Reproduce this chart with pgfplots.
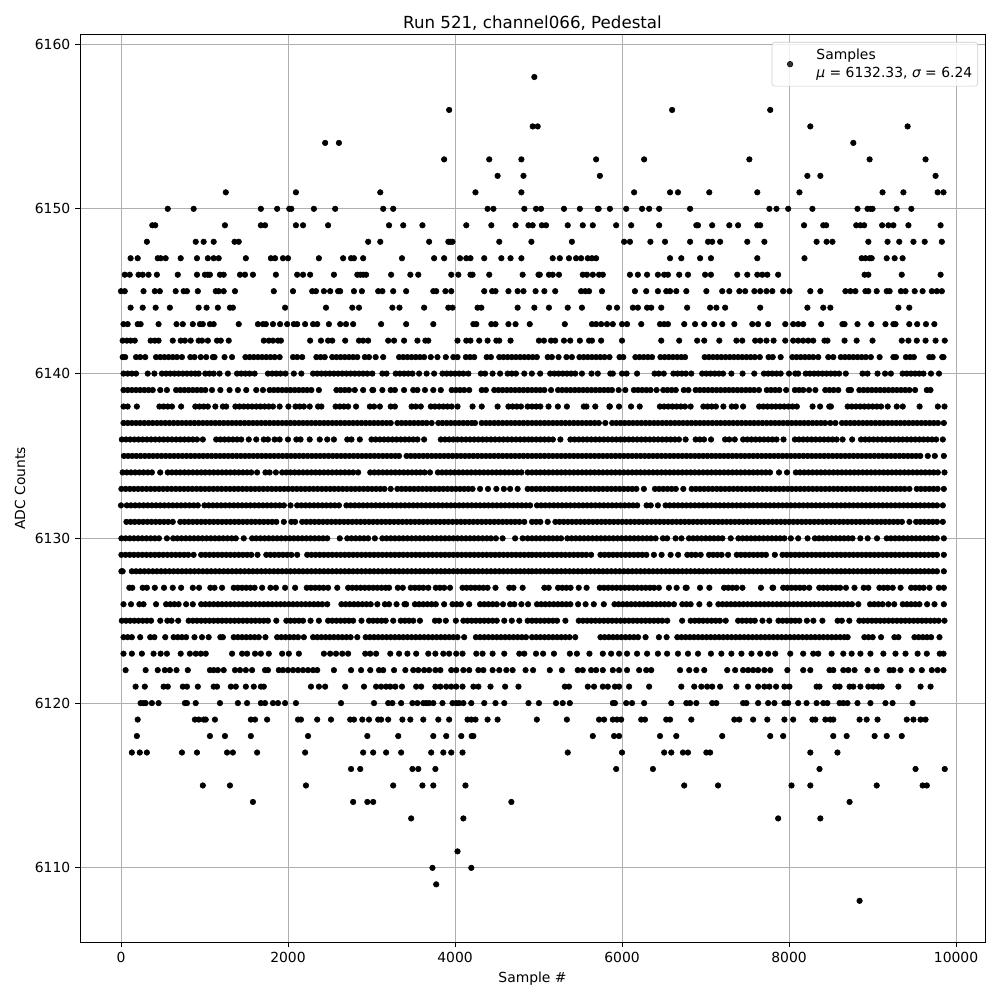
\documentclass[border=0pt]{standalone}
\usepackage{pgfplots}
\usepackage{fontspec}
\setmainfont{DejaVu Sans}
\pgfplotsset{compat=1.18}
\pgfplotsset{lv/.style={only marks,mark=*,mark size=2bp,mark options={draw=none,fill=black},forget plot}}
\newcommand{\lvl}[2]{\addplot[lv] table[x index=0,y expr=#1,header=false,row sep=\\] {#2};}
\begin{document}
\begin{tikzpicture}
\useasboundingbox (-57.6bp,-41.76bp) rectangle ++(720bp,720bp);
\begin{axis}[
  at={(0,0)},anchor=south west,
  scale only axis,width=651.6bp,height=653.04bp,
  xmin=-491,xmax=10347,ymin=6105.5,ymax=6160.55,
  xtick={0,2000,4000,6000,8000,10000},
  ytick={6110,6120,6130,6140,6150,6160},
  scaled ticks=false,
  /pgf/number format/1000 sep={},
  /pgf/number format/assume math mode=true,
  tick style={black,line width=0.7bp},
  major tick length=3.5bp,
  tick align=outside,
  xtick pos=lower,ytick pos=left,
  axis line style={black,line width=0.7bp},
  grid=major,
  grid style={color={rgb,255:red,176;green,176;blue,176},line width=0.7bp},
  tick label style={font=\fontsize{10bp}{12bp}\selectfont},
  label style={font=\fontsize{10bp}{12bp}\selectfont},
  title style={font=\fontsize{12bp}{14bp}\selectfont,yshift=-6bp},
  title={Run 521, channel066, Pedestal},
  xlabel={Sample \#},ylabel={ADC Counts},
  legend style={at={(0.9923,0.9923)},anchor=north east,rounded corners=2bp,draw={rgb,255:red,204;green,204;blue,204},fill=white,fill opacity=0.8,text opacity=1,font=\fontsize{10bp}{12bp}\selectfont,inner xsep=2bp,inner ysep=3bp},
  legend cell align=left,
  legend image code/.code={\path[draw=none,fill=none] (-11bp,0) rectangle (0,0);\path[draw=none] plot[mark=*,mark size=2bp,mark options={draw=none,fill=black}] coordinates {(0,0)};},
]
\addlegendimage{only marks}
\addlegendentry{\hspace*{15bp}\shortstack[l]{Samples\\{\itshape μ} = 6132.33, {\itshape σ} = 6.24}}
\lvl{6158}{4950\\}
\lvl{6156}{3930\\6600\\7775\\}
\lvl{6155}{4930\\4990\\8255\\9420\\}
\lvl{6154}{2445\\2610\\8770\\}
\lvl{6153}{3870\\4410\\4795\\5690\\6265\\7525\\8965\\9635\\}
\lvl{6152}{4510\\4820\\5735\\8220\\8375\\9755\\}
\lvl{6151}{1255\\2095\\3105\\4245\\4795\\6145\\6575\\6670\\7045\\7620\\8125\\9120\\9370\\9780\\9850\\}
\lvl{6150}{560\\870\\1675\\1870\\2015\\2040\\2310\\2565\\3140\\3260\\4390\\4460\\4830\\4970\\5030\\5305\\5495\\5710\\5720\\5855\\6050\\6240\\6325\\6445\\6815\\7765\\7850\\7990\\8280\\8820\\8940\\8975\\9000\\9290\\9465\\}
\lvl{6149}{375\\410\\1245\\1675\\1725\\2095\\2180\\2480\\3210\\3380\\3610\\4135\\4435\\4725\\4880\\4930\\5040\\5090\\5350\\5530\\5650\\5930\\6110\\6445\\6890\\6910\\7080\\7285\\7390\\7620\\7655\\8180\\8410\\8445\\8805\\8855\\8900\\9115\\9190\\9250\\9430\\9815\\}
\lvl{6148}{310\\895\\990\\1110\\1360\\1410\\2960\\3105\\3690\\3920\\3945\\3970\\4530\\4915\\5400\\6025\\6095\\6340\\6515\\6815\\7030\\7080\\7175\\7500\\7705\\8330\\8450\\8520\\8950\\9180\\9320\\9490\\9625\\9830\\}
\lvl{6147}{115\\200\\440\\475\\535\\715\\910\\1040\\1110\\1170\\1495\\1795\\1845\\1940\\2000\\2370\\2660\\2755\\2790\\2900\\3365\\3750\\3870\\4060\\4135\\4185\\4350\\4555\\4665\\4795\\5170\\5255\\5365\\5450\\5510\\5590\\5640\\5690\\6575\\6710\\6935\\7065\\7620\\8185\\8870\\8915\\8965\\8990\\9170\\9265\\9360\\}
\lvl{6146}{45\\105\\210\\260\\330\\430\\680\\910\\1005\\1040\\1065\\1185\\1230\\1425\\1485\\1580\\1855\\2110\\2180\\2265\\2550\\2830\\2865\\2900\\2935\\3235\\3465\\3560\\3955\\4040\\4185\\4210\\4410\\4810\\5000\\5015\\5125\\5170\\5245\\5530\\5580\\5650\\5725\\5770\\6095\\6190\\6300\\6430\\6505\\6550\\6685\\6790\\6995\\7065\\7380\\7500\\7620\\7680\\7740\\7870\\8905\\8950\\9350\\9815\\}
\lvl{6145}{0\\45\\270\\405\\465\\655\\750\\790\\920\\1135\\1170\\1230\\1365\\1830\\2060\\2290\\2335\\2430\\2505\\2600\\2625\\2790\\2885\\3080\\3130\\3260\\3415\\3740\\3775\\3885\\3955\\4350\\4445\\4485\\4640\\4750\\4820\\4965\\5070\\5200\\5510\\5560\\5605\\5760\\6155\\6290\\6430\\6530\\6575\\6650\\6770\\7010\\7200\\7285\\7405\\7475\\7585\\7655\\7730\\7800\\7930\\8005\\8255\\8375\\8675\\8735\\8795\\8915\\8950\\9050\\9170\\9205\\9340\\9395\\9505\\9600\\9710\\9770\\9830\\}
\lvl{6144}{115\\260\\415\\585\\930\\1025\\1160\\1305\\1340\\1965\\2455\\2770\\2850\\3250\\3335\\3630\\3920\\3970\\4270\\4315\\4750\\4950\\5125\\5350\\5520\\5845\\5940\\6130\\6190\\6300\\6350\\6470\\6780\\7055\\7130\\7235\\7655\\8220\\8410\\8495\\9310\\9440\\}
\lvl{6143}{30\\80\\200\\235\\450\\665\\740\\860\\945\\980\\1065\\1110\\1410\\1640\\1700\\1735\\1820\\1905\\1990\\2070\\2110\\2205\\2300\\2350\\2490\\2625\\2695\\2780\\3115\\3415\\3740\\4220\\4255\\4435\\4485\\4640\\4725\\4895\\5315\\5640\\5690\\5750\\5820\\5890\\6000\\6060\\6230\\6455\\6505\\6550\\6745\\6875\\6985\\7105\\7200\\7345\\7560\\7630\\7750\\7955\\8050\\8110\\8170\\8385\\8640\\8665\\8820\\8985\\9155\\9250\\9275\\9440\\9535\\9640\\9740\\}
\lvl{6142}{20\\70\\115\\165\\355\\405\\450\\620\\715\\765\\835\\930\\970\\1040\\1150\\1195\\1290\\1710\\1770\\1820\\1880\\1915\\2265\\2395\\2480\\2530\\2685\\2850\\2900\\2960\\3200\\3270\\3390\\3550\\3645\\3680\\4030\\4135\\4185\\4290\\4390\\4495\\4530\\4665\\5005\\5065\\5150\\5200\\5305\\5380\\5495\\5605\\5640\\5750\\6000\\6470\\6685\\6900\\6985\\7165\\7370\\7440\\7595\\7655\\7730\\7815\\7955\\8050\\8110\\8170\\8230\\8290\\8425\\8460\\8665\\8810\\9000\\9350\\9430\\9530\\9635\\9755\\9865\\}
\lvl{6141}{20\\50\\180\\230\\290\\420\\470\\520\\570\\620\\670\\730\\830\\880\\955\\1020\\1100\\1120\\1240\\1330\\1490\\1540\\1590\\1640\\1690\\1740\\1790\\1840\\1900\\2060\\2110\\2170\\2340\\2390\\2440\\2530\\2580\\2630\\2680\\2730\\2780\\2830\\2920\\2970\\3050\\3140\\3330\\3380\\3430\\3480\\3530\\3580\\3630\\3710\\3790\\3890\\3980\\4030\\4130\\4180\\4230\\4380\\4430\\4530\\4580\\4630\\4680\\4730\\4780\\4830\\4880\\4930\\4980\\5110\\5160\\5240\\5335\\5400\\5490\\5540\\5590\\5640\\5690\\5740\\5790\\5850\\5970\\6015\\6160\\6210\\6260\\6310\\6360\\6460\\6510\\6560\\6610\\6660\\6710\\6755\\6990\\7040\\7090\\7140\\7190\\7240\\7290\\7340\\7390\\7440\\7490\\7540\\7590\\7650\\7755\\7805\\7900\\8040\\8090\\8140\\8190\\8240\\8290\\8350\\8470\\8530\\8620\\8670\\8720\\8770\\8820\\8870\\8920\\8980\\9085\\9250\\9280\\9400\\9450\\9495\\9680\\9720\\9835\\9850\\}
\lvl{6140}{30\\80\\130\\180\\320\\400\\490\\540\\590\\640\\690\\740\\790\\840\\890\\930\\1010\\1060\\1110\\1180\\1280\\1390\\1440\\1490\\1540\\1600\\1760\\1810\\1860\\1910\\1970\\2070\\2160\\2300\\2350\\2400\\2450\\2500\\2550\\2600\\2650\\2700\\2750\\2800\\2850\\2900\\2950\\3010\\3130\\3180\\3290\\3340\\3390\\3440\\3490\\3570\\3660\\3750\\3850\\3900\\3950\\4000\\4050\\4100\\4160\\4310\\4360\\4450\\4540\\4630\\4680\\4730\\4830\\4920\\5020\\5140\\5190\\5240\\5290\\5340\\5390\\5440\\5520\\5635\\5710\\5860\\5890\\6000\\6055\\6180\\6390\\6440\\6500\\6615\\6665\\6715\\6765\\6830\\6960\\7010\\7060\\7110\\7160\\7210\\7310\\7444\\7584\\7700\\7750\\7800\\7850\\7900\\8000\\8075\\8110\\8200\\8250\\8300\\8350\\8400\\8450\\8500\\8550\\8600\\8680\\8880\\8940\\9060\\9150\\9220\\9360\\9410\\9460\\9510\\9560\\9610\\9700\\9796\\}
\lvl{6139}{30\\80\\130\\180\\230\\280\\330\\380\\470\\550\\660\\710\\760\\810\\860\\910\\960\\1010\\1090\\1190\\1300\\1400\\1500\\1620\\1700\\1780\\1830\\1880\\1930\\1980\\2030\\2080\\2130\\2180\\2230\\2280\\2370\\2580\\2630\\2680\\2730\\2800\\2900\\3010\\3020\\3130\\3230\\3280\\3390\\3500\\3550\\3640\\3740\\3830\\3960\\4010\\4060\\4110\\4170\\4320\\4370\\4470\\4520\\4570\\4620\\4670\\4720\\4770\\4820\\4870\\4920\\4970\\5020\\5070\\5150\\5234\\5284\\5334\\5384\\5434\\5484\\5534\\5584\\5634\\5684\\5734\\5784\\5834\\5880\\5960\\6040\\6142\\6192\\6242\\6292\\6342\\6414\\6494\\6544\\6594\\6644\\6740\\6796\\6882\\6932\\6982\\7032\\7082\\7132\\7182\\7232\\7282\\7332\\7382\\7432\\7482\\7532\\7582\\7640\\7734\\7784\\7834\\7884\\7966\\8070\\8120\\8170\\8240\\8316\\8434\\8484\\8534\\8590\\8714\\8742\\8842\\8892\\8942\\8992\\9042\\9092\\9142\\9192\\9242\\9292\\9342\\9392\\9442\\9510\\9650\\9694\\}
\lvl{6138}{30\\80\\190\\460\\510\\560\\610\\720\\890\\940\\990\\1040\\1130\\1220\\1260\\1370\\1420\\1470\\1520\\1570\\1620\\1670\\1720\\1770\\1820\\1900\\2005\\2090\\2140\\2190\\2260\\2360\\2400\\2570\\2620\\2670\\2720\\2815\\2980\\3030\\3100\\3230\\3280\\3480\\3530\\3590\\3710\\3760\\3810\\3860\\3910\\3960\\4030\\4210\\4320\\4510\\4640\\4690\\4740\\4790\\4870\\4922\\4972\\5022\\5120\\5232\\5340\\5542\\5574\\5680\\5850\\5854\\5964\\6108\\6212\\6454\\6504\\6554\\6604\\6654\\6704\\6754\\6822\\6974\\7024\\7074\\7124\\7214\\7314\\7364\\7450\\7642\\7692\\7742\\7792\\7842\\7892\\7942\\7992\\8042\\8094\\8282\\8372\\8482\\8502\\8702\\8752\\8802\\8852\\8902\\8952\\9002\\9052\\9102\\9182\\9290\\9362\\9564\\9782\\9862\\}
\lvl{6137}{30\\80\\130\\180\\230\\280\\330\\380\\430\\480\\530\\580\\630\\680\\730\\780\\830\\880\\930\\980\\1030\\1080\\1130\\1180\\1230\\1280\\1330\\1380\\1430\\1480\\1530\\1580\\1630\\1680\\1730\\1780\\1830\\1880\\1930\\1980\\2030\\2080\\2130\\2180\\2230\\2280\\2330\\2380\\2430\\2480\\2530\\2580\\2630\\2680\\2730\\2780\\2830\\2880\\2930\\2980\\3030\\3080\\3130\\3180\\3230\\3310\\3360\\3410\\3460\\3510\\3560\\3610\\3660\\3720\\3800\\3850\\3900\\3950\\4000\\4050\\4100\\4150\\4200\\4240\\4320\\4370\\4420\\4470\\4520\\4570\\4620\\4670\\4720\\4770\\4820\\4870\\4922\\4972\\5022\\5072\\5122\\5172\\5222\\5272\\5322\\5372\\5422\\5472\\5522\\5572\\5622\\5672\\5722\\5800\\5882\\5932\\5982\\6032\\6082\\6132\\6182\\6232\\6282\\6332\\6382\\6432\\6482\\6532\\6582\\6632\\6682\\6732\\6782\\6832\\6882\\6932\\6982\\7032\\7082\\7132\\7182\\7232\\7282\\7332\\7382\\7432\\7482\\7532\\7582\\7632\\7682\\7732\\7782\\7832\\7882\\7932\\7982\\8032\\8082\\8132\\8182\\8232\\8282\\8332\\8382\\8432\\8494\\8556\\8634\\8684\\8734\\8784\\8834\\8884\\8934\\8984\\9034\\9084\\9134\\9184\\9234\\9284\\9334\\9384\\9434\\9484\\9534\\9584\\9634\\9684\\9734\\9784\\9854\\}
\lvl{6136}{10\\60\\110\\160\\210\\260\\310\\360\\410\\460\\510\\560\\610\\660\\710\\760\\810\\860\\910\\980\\1140\\1190\\1240\\1290\\1340\\1390\\1440\\1530\\1620\\1710\\1760\\1840\\1900\\2000\\2100\\2150\\2260\\2380\\2470\\2550\\2710\\2760\\2860\\3000\\3050\\3100\\3150\\3200\\3250\\3300\\3350\\3400\\3450\\3500\\3550\\3630\\3830\\3880\\3930\\3980\\4030\\4080\\4130\\4180\\4230\\4280\\4330\\4380\\4430\\4480\\4530\\4580\\4630\\4680\\4730\\4780\\4830\\4880\\4922\\4972\\5022\\5072\\5122\\5172\\5262\\5382\\5432\\5482\\5532\\5582\\5632\\5682\\5732\\5782\\5832\\5882\\5932\\5982\\6032\\6082\\6132\\6182\\6232\\6282\\6332\\6382\\6432\\6482\\6532\\6582\\6632\\6682\\6762\\6882\\6932\\6982\\7066\\7234\\7284\\7350\\7450\\7500\\7550\\7600\\7650\\7700\\7750\\7800\\7850\\7934\\8070\\8120\\8170\\8220\\8270\\8320\\8370\\8420\\8470\\8520\\8570\\8642\\8756\\8862\\8912\\8962\\9012\\9062\\9112\\9162\\9212\\9262\\9312\\9362\\9412\\9462\\9512\\9562\\9612\\9662\\9712\\9762\\9842\\}
\lvl{6135}{35\\85\\135\\185\\235\\285\\335\\385\\435\\485\\535\\585\\635\\685\\735\\785\\835\\885\\935\\985\\1035\\1085\\1135\\1185\\1235\\1285\\1335\\1385\\1435\\1485\\1535\\1585\\1635\\1685\\1735\\1785\\1835\\1885\\1935\\1985\\2035\\2085\\2135\\2185\\2235\\2285\\2335\\2385\\2435\\2485\\2535\\2585\\2635\\2685\\2735\\2785\\2835\\2885\\2935\\2985\\3035\\3085\\3135\\3185\\3235\\3285\\3330\\3420\\3470\\3520\\3570\\3620\\3670\\3720\\3770\\3820\\3870\\3920\\3970\\4020\\4070\\4120\\4170\\4220\\4270\\4320\\4370\\4420\\4470\\4520\\4570\\4620\\4670\\4720\\4770\\4820\\4870\\4922\\4972\\5022\\5072\\5122\\5172\\5222\\5272\\5322\\5372\\5422\\5472\\5522\\5572\\5622\\5672\\5722\\5772\\5822\\5872\\5922\\5972\\6022\\6072\\6122\\6172\\6222\\6272\\6322\\6372\\6422\\6472\\6522\\6572\\6622\\6672\\6722\\6772\\6822\\6872\\6922\\6972\\7022\\7072\\7122\\7172\\7222\\7272\\7322\\7372\\7422\\7472\\7522\\7572\\7622\\7672\\7722\\7772\\7822\\7872\\7922\\7972\\8022\\8072\\8122\\8172\\8222\\8272\\8322\\8372\\8422\\8472\\8522\\8572\\8622\\8672\\8722\\8772\\8822\\8872\\8922\\8972\\9022\\9072\\9122\\9172\\9222\\9272\\9322\\9372\\9422\\9472\\9522\\9572\\9662\\9746\\9854\\}
\lvl{6134}{20\\70\\120\\170\\220\\270\\320\\370\\470\\560\\610\\660\\710\\760\\810\\860\\910\\960\\1010\\1060\\1110\\1160\\1210\\1260\\1310\\1360\\1410\\1460\\1510\\1560\\1630\\1730\\1780\\1855\\1930\\1980\\2030\\2080\\2130\\2180\\2230\\2280\\2330\\2380\\2430\\2480\\2530\\2580\\2630\\2680\\2730\\2780\\2840\\2985\\3035\\3085\\3135\\3185\\3235\\3285\\3335\\3385\\3435\\3485\\3535\\3585\\3635\\3700\\3795\\3845\\3895\\3945\\3995\\4045\\4095\\4145\\4195\\4245\\4295\\4345\\4395\\4445\\4495\\4545\\4595\\4645\\4695\\4745\\4795\\4870\\4922\\4972\\5022\\5072\\5122\\5172\\5222\\5272\\5322\\5372\\5422\\5472\\5522\\5572\\5622\\5672\\5722\\5772\\5822\\5872\\5922\\5972\\6022\\6072\\6122\\6172\\6222\\6272\\6322\\6372\\6422\\6472\\6522\\6572\\6622\\6672\\6722\\6772\\6822\\6872\\6922\\6972\\7022\\7072\\7122\\7172\\7222\\7272\\7322\\7372\\7422\\7472\\7522\\7572\\7622\\7672\\7722\\7772\\7880\\7976\\8082\\8132\\8182\\8232\\8282\\8332\\8382\\8432\\8482\\8532\\8582\\8632\\8682\\8732\\8782\\8832\\8882\\8932\\8982\\9032\\9082\\9132\\9182\\9232\\9282\\9332\\9382\\9432\\9482\\9532\\9582\\9632\\9682\\9732\\9782\\9862\\}
\lvl{6133}{5\\55\\105\\155\\205\\255\\305\\355\\405\\455\\505\\555\\605\\655\\705\\755\\805\\855\\905\\955\\1005\\1055\\1105\\1155\\1205\\1255\\1305\\1355\\1405\\1455\\1505\\1555\\1605\\1655\\1705\\1755\\1805\\1855\\1905\\1955\\2005\\2055\\2105\\2155\\2205\\2255\\2305\\2355\\2405\\2455\\2505\\2555\\2605\\2655\\2705\\2755\\2805\\2855\\2905\\2955\\3005\\3055\\3105\\3155\\3230\\3310\\3360\\3410\\3460\\3510\\3560\\3610\\3660\\3710\\3760\\3810\\3860\\3910\\3960\\4010\\4060\\4110\\4160\\4210\\4300\\4395\\4495\\4585\\4660\\4750\\4870\\4922\\4972\\5022\\5072\\5122\\5172\\5222\\5272\\5322\\5372\\5422\\5472\\5522\\5572\\5622\\5672\\5722\\5772\\5822\\5872\\5922\\5972\\6022\\6072\\6122\\6172\\6262\\6394\\6444\\6494\\6544\\6594\\6644\\6734\\6834\\6884\\6934\\6984\\7034\\7084\\7134\\7184\\7234\\7284\\7334\\7384\\7434\\7484\\7534\\7584\\7634\\7684\\7734\\7784\\7834\\7884\\7934\\7984\\8034\\8084\\8134\\8184\\8234\\8284\\8334\\8384\\8434\\8484\\8534\\8584\\8634\\8684\\8734\\8784\\8834\\8884\\8934\\8984\\9034\\9084\\9134\\9184\\9234\\9284\\9334\\9384\\9442\\9530\\9580\\9630\\9680\\9730\\9780\\9854\\}
\lvl{6132}{0\\70\\120\\170\\220\\270\\320\\370\\420\\470\\520\\570\\620\\670\\720\\770\\820\\870\\920\\1000\\1050\\1100\\1150\\1200\\1250\\1300\\1350\\1400\\1450\\1500\\1550\\1600\\1650\\1700\\1750\\1800\\1850\\1900\\1950\\2030\\2110\\2160\\2210\\2260\\2310\\2360\\2410\\2460\\2510\\2560\\2610\\2700\\2750\\2800\\2850\\2900\\2950\\3000\\3050\\3100\\3150\\3200\\3250\\3300\\3350\\3400\\3450\\3500\\3550\\3600\\3650\\3700\\3750\\3800\\3850\\3900\\3950\\4000\\4050\\4100\\4150\\4200\\4250\\4300\\4350\\4400\\4450\\4500\\4550\\4600\\4650\\4700\\4750\\4800\\4850\\4900\\4982\\5032\\5082\\5132\\5182\\5232\\5282\\5332\\5382\\5432\\5482\\5532\\5582\\5632\\5682\\5732\\5782\\5832\\5882\\5932\\5982\\6032\\6082\\6132\\6182\\6294\\6344\\6430\\6522\\6572\\6622\\6672\\6722\\6772\\6822\\6872\\6922\\6972\\7022\\7072\\7122\\7172\\7222\\7272\\7322\\7372\\7422\\7472\\7522\\7572\\7622\\7672\\7722\\7772\\7822\\7872\\7922\\7972\\8022\\8072\\8122\\8172\\8222\\8272\\8322\\8372\\8422\\8472\\8522\\8572\\8622\\8672\\8722\\8772\\8822\\8872\\8922\\8972\\9022\\9072\\9122\\9172\\9222\\9272\\9322\\9372\\9422\\9472\\9522\\9572\\9622\\9672\\9722\\9772\\9842\\}
\lvl{6131}{65\\115\\165\\215\\265\\315\\365\\415\\465\\515\\565\\620\\710\\760\\810\\860\\910\\960\\1010\\1060\\1110\\1160\\1210\\1260\\1310\\1360\\1410\\1460\\1510\\1560\\1610\\1660\\1710\\1760\\1810\\1860\\1950\\2040\\2085\\2170\\2220\\2270\\2320\\2370\\2420\\2470\\2520\\2570\\2620\\2670\\2720\\2770\\2820\\2870\\2920\\2970\\3020\\3070\\3120\\3170\\3220\\3270\\3320\\3370\\3420\\3470\\3520\\3570\\3620\\3670\\3720\\3770\\3820\\3870\\3920\\3970\\4020\\4070\\4120\\4170\\4220\\4270\\4320\\4370\\4420\\4470\\4520\\4570\\4620\\4670\\4720\\4770\\4830\\4922\\4972\\5022\\5110\\5202\\5252\\5302\\5352\\5402\\5452\\5502\\5552\\5602\\5652\\5702\\5752\\5802\\5852\\5902\\5952\\6002\\6052\\6102\\6152\\6202\\6252\\6302\\6352\\6402\\6452\\6502\\6552\\6602\\6652\\6702\\6752\\6802\\6852\\6902\\6952\\7002\\7052\\7102\\7152\\7202\\7252\\7302\\7352\\7402\\7452\\7502\\7552\\7602\\7652\\7702\\7752\\7802\\7852\\7902\\7952\\8002\\8052\\8102\\8152\\8202\\8252\\8302\\8352\\8402\\8452\\8502\\8552\\8602\\8652\\8702\\8752\\8802\\8852\\8902\\8952\\9002\\9052\\9102\\9152\\9202\\9252\\9302\\9352\\9442\\9522\\9572\\9622\\9672\\9722\\9772\\9842\\}
\lvl{6130}{5\\55\\105\\155\\205\\255\\305\\355\\405\\455\\550\\625\\675\\725\\775\\825\\875\\925\\975\\1025\\1075\\1125\\1175\\1225\\1275\\1325\\1375\\1470\\1570\\1620\\1670\\1720\\1770\\1820\\1870\\1920\\1970\\2020\\2070\\2120\\2170\\2220\\2270\\2320\\2370\\2420\\2470\\2620\\2710\\2760\\2810\\2860\\2910\\2960\\3040\\3130\\3180\\3230\\3280\\3330\\3380\\3430\\3480\\3530\\3580\\3630\\3680\\3730\\3780\\3830\\3880\\3930\\3980\\4030\\4080\\4130\\4180\\4230\\4280\\4330\\4380\\4430\\4490\\4570\\4720\\4810\\4870\\4922\\4972\\5022\\5072\\5122\\5172\\5222\\5270\\5346\\5396\\5446\\5496\\5546\\5596\\5646\\5696\\5746\\5796\\5846\\5896\\5946\\5996\\6046\\6096\\6146\\6196\\6246\\6296\\6346\\6402\\6490\\6540\\6642\\6712\\6802\\6852\\6902\\6952\\7002\\7052\\7102\\7152\\7202\\7302\\7394\\7444\\7494\\7544\\7594\\7644\\7694\\7744\\7794\\7844\\7894\\7944\\8022\\8110\\8222\\8310\\8360\\8410\\8460\\8510\\8560\\8610\\8660\\8710\\8760\\8854\\8942\\9054\\9170\\9220\\9270\\9320\\9370\\9420\\9470\\9520\\9570\\9620\\9670\\9720\\9770\\9854\\}
\lvl{6129}{5\\55\\105\\155\\205\\255\\305\\355\\405\\455\\505\\555\\605\\655\\705\\755\\805\\870\\960\\1010\\1060\\1110\\1160\\1210\\1260\\1310\\1360\\1410\\1460\\1510\\1560\\1635\\1740\\1790\\1840\\1890\\1940\\1990\\2040\\2110\\2230\\2280\\2330\\2380\\2430\\2480\\2530\\2580\\2630\\2680\\2730\\2780\\2830\\2880\\2930\\2980\\3030\\3080\\3130\\3180\\3230\\3280\\3330\\3380\\3430\\3480\\3530\\3580\\3630\\3680\\3730\\3780\\3830\\3880\\3930\\3980\\4030\\4080\\4130\\4180\\4230\\4280\\4330\\4380\\4430\\4480\\4530\\4580\\4630\\4680\\4730\\4780\\4830\\4880\\4922\\4972\\5022\\5072\\5122\\5172\\5222\\5272\\5322\\5372\\5422\\5472\\5522\\5572\\5630\\5742\\5792\\5842\\5892\\5942\\5992\\6042\\6092\\6142\\6192\\6242\\6292\\6382\\6474\\6582\\6672\\6782\\6832\\6882\\6942\\7042\\7092\\7142\\7192\\7270\\7374\\7424\\7474\\7524\\7574\\7624\\7674\\7724\\7830\\7922\\7972\\8022\\8072\\8122\\8172\\8222\\8272\\8322\\8372\\8422\\8472\\8522\\8572\\8622\\8672\\8722\\8772\\8822\\8872\\8922\\8972\\9022\\9072\\9122\\9172\\9222\\9272\\9322\\9372\\9422\\9472\\9522\\9572\\9622\\9672\\9722\\9772\\9854\\}
\lvl{6128}{5\\20\\130\\180\\230\\280\\330\\380\\430\\480\\530\\580\\630\\680\\730\\780\\830\\880\\930\\980\\1030\\1080\\1130\\1180\\1230\\1280\\1330\\1380\\1430\\1480\\1530\\1580\\1630\\1680\\1730\\1780\\1830\\1880\\1930\\1980\\2030\\2080\\2130\\2180\\2230\\2280\\2330\\2380\\2430\\2480\\2530\\2580\\2630\\2680\\2730\\2780\\2830\\2880\\2930\\2980\\3030\\3080\\3130\\3180\\3230\\3280\\3330\\3380\\3430\\3480\\3530\\3580\\3630\\3680\\3730\\3780\\3830\\3880\\3930\\3980\\4030\\4080\\4130\\4180\\4230\\4280\\4330\\4380\\4430\\4480\\4530\\4580\\4630\\4680\\4730\\4780\\4830\\4880\\4922\\4972\\5022\\5072\\5122\\5172\\5222\\5272\\5322\\5372\\5422\\5472\\5522\\5572\\5622\\5672\\5722\\5772\\5822\\5872\\5922\\5972\\6022\\6072\\6122\\6172\\6222\\6272\\6322\\6372\\6422\\6472\\6522\\6572\\6622\\6672\\6722\\6772\\6822\\6872\\6922\\6972\\7022\\7072\\7122\\7172\\7222\\7272\\7322\\7372\\7422\\7472\\7522\\7572\\7622\\7672\\7722\\7772\\7822\\7872\\7922\\7972\\8022\\8072\\8122\\8172\\8222\\8272\\8322\\8372\\8422\\8472\\8522\\8572\\8622\\8672\\8722\\8772\\8822\\8872\\8922\\8972\\9022\\9072\\9122\\9172\\9222\\9272\\9322\\9372\\9422\\9472\\9522\\9572\\9622\\9672\\9722\\9772\\9854\\}
\lvl{6127}{100\\135\\260\\310\\405\\515\\620\\720\\860\\935\\1070\\1120\\1210\\1350\\1400\\1450\\1500\\1550\\1600\\1690\\1790\\1855\\1965\\2085\\2225\\2275\\2325\\2375\\2425\\2480\\2590\\2720\\2770\\2820\\2870\\2920\\2970\\3020\\3070\\3120\\3170\\3210\\3315\\3375\\3470\\3520\\3570\\3620\\3680\\3770\\3820\\3870\\3940\\4090\\4140\\4190\\4240\\4290\\4340\\4390\\4485\\4650\\4700\\4810\\5070\\5122\\5234\\5284\\5334\\5384\\5482\\5576\\5734\\5784\\5834\\5884\\5934\\5984\\6034\\6084\\6134\\6184\\6234\\6284\\6334\\6384\\6442\\6562\\6654\\6762\\6774\\6934\\7046\\7222\\7272\\7322\\7372\\7442\\7664\\7802\\7810\\7930\\7980\\8030\\8080\\8130\\8180\\8242\\8362\\8412\\8462\\8512\\8562\\8612\\8682\\8784\\8894\\8950\\9082\\9132\\9182\\9242\\9336\\9462\\9512\\9562\\9612\\9682\\9794\\9854\\}
\lvl{6126}{30\\120\\220\\270\\420\\540\\590\\640\\690\\780\\860\\960\\1010\\1060\\1110\\1160\\1210\\1260\\1310\\1360\\1410\\1460\\1510\\1560\\1610\\1660\\1710\\1760\\1810\\1860\\1910\\1960\\2010\\2060\\2110\\2160\\2210\\2260\\2310\\2360\\2410\\2470\\2640\\2690\\2740\\2790\\2840\\2890\\2940\\2990\\3070\\3160\\3210\\3300\\3395\\3415\\3520\\3570\\3620\\3670\\3720\\3770\\3870\\3970\\4020\\4070\\4170\\4300\\4350\\4400\\4450\\4500\\4575\\4660\\4710\\4795\\4875\\4982\\5032\\5082\\5132\\5182\\5232\\5282\\5332\\5382\\5474\\5564\\5662\\5782\\5910\\5960\\6010\\6060\\6110\\6160\\6210\\6260\\6310\\6360\\6410\\6460\\6510\\6560\\6622\\6722\\6772\\6822\\6926\\7048\\7154\\7204\\7254\\7304\\7354\\7404\\7454\\7504\\7554\\7604\\7654\\7704\\7754\\7804\\7854\\7904\\7954\\8004\\8054\\8104\\8154\\8204\\8254\\8304\\8354\\8404\\8454\\8504\\8554\\8604\\8654\\8704\\8754\\8830\\8970\\9020\\9070\\9120\\9190\\9260\\9362\\9412\\9462\\9512\\9562\\9654\\9742\\9854\\}
\lvl{6125}{10\\60\\110\\160\\210\\260\\310\\360\\470\\555\\605\\685\\810\\860\\910\\960\\1010\\1060\\1110\\1160\\1210\\1260\\1310\\1360\\1410\\1460\\1510\\1560\\1610\\1660\\1710\\1760\\1860\\1980\\2030\\2080\\2130\\2180\\2270\\2370\\2480\\2530\\2580\\2630\\2680\\2730\\2780\\2880\\2970\\3020\\3070\\3120\\3170\\3260\\3350\\3400\\3450\\3500\\3580\\3760\\3810\\3890\\4010\\4100\\4150\\4200\\4250\\4300\\4350\\4400\\4450\\4500\\4590\\4680\\4770\\4870\\4922\\4972\\5022\\5072\\5122\\5172\\5222\\5322\\5482\\5532\\5582\\5632\\5682\\5732\\5782\\5832\\5882\\5932\\5982\\6032\\6082\\6132\\6182\\6232\\6282\\6332\\6382\\6432\\6482\\6542\\6720\\6822\\6872\\6922\\6972\\7022\\7072\\7122\\7172\\7242\\7390\\7440\\7490\\7540\\7590\\7682\\7764\\7874\\7924\\7974\\8024\\8074\\8124\\8214\\8292\\8400\\8582\\8632\\8722\\8842\\8892\\8942\\8992\\9042\\9092\\9142\\9192\\9242\\9292\\9342\\9392\\9442\\9492\\9542\\9592\\9642\\9692\\9742\\9792\\9862\\}
\lvl{6124}{30\\80\\130\\230\\350\\400\\530\\630\\680\\730\\780\\880\\970\\1050\\1190\\1220\\1350\\1400\\1450\\1500\\1550\\1600\\1650\\1730\\1870\\1920\\1970\\2020\\2070\\2120\\2190\\2300\\2350\\2400\\2450\\2500\\2550\\2600\\2650\\2700\\2750\\2830\\2930\\2980\\3030\\3080\\3130\\3180\\3230\\3280\\3330\\3380\\3430\\3480\\3530\\3580\\3630\\3680\\3730\\3780\\3830\\3880\\3930\\3980\\4030\\4110\\4250\\4300\\4350\\4400\\4450\\4500\\4550\\4600\\4650\\4700\\4750\\4800\\4850\\4922\\4972\\5022\\5072\\5122\\5172\\5222\\5272\\5322\\5372\\5440\\5742\\5792\\5842\\5892\\5942\\5992\\6042\\6092\\6142\\6192\\6282\\6442\\6534\\6662\\6712\\6762\\6812\\6862\\6912\\6962\\7012\\7062\\7112\\7162\\7212\\7262\\7312\\7362\\7412\\7462\\7512\\7562\\7612\\7662\\7712\\7762\\7812\\7862\\7912\\7962\\8012\\8062\\8112\\8162\\8212\\8262\\8312\\8362\\8412\\8462\\8512\\8562\\8612\\8662\\8702\\8902\\8952\\9002\\9102\\9262\\9310\\9502\\9552\\9602\\9652\\9702\\9802\\}
\lvl{6123}{30\\130\\250\\390\\475\\550\\715\\825\\895\\955\\1015\\1330\\1450\\1510\\1605\\1675\\1770\\1930\\2010\\2130\\2430\\2505\\2575\\2650\\2720\\2925\\2985\\3055\\3225\\3330\\3430\\3535\\3680\\3765\\3860\\3930\\4015\\4090\\4255\\4330\\4450\\4590\\4770\\4830\\4970\\5055\\5185\\5375\\5460\\5610\\5770\\5870\\5965\\6060\\6180\\6300\\6430\\6540\\6670\\6790\\6910\\7065\\7190\\7310\\7430\\7550\\7655\\7750\\7835\\8015\\8170\\8290\\8350\\8510\\8650\\8750\\8855\\8975\\9130\\9275\\9395\\9540\\9650\\9805\\9850\\}
\lvl{6122}{55\\295\\440\\525\\585\\665\\800\\1065\\1110\\1160\\1230\\1365\\1425\\1495\\1570\\1725\\1760\\1890\\1940\\2000\\2060\\2120\\2180\\2240\\2300\\2350\\2550\\2755\\2875\\2985\\3090\\3140\\3270\\3405\\3500\\3560\\3630\\3690\\3765\\3825\\3955\\4015\\4100\\4170\\4280\\4340\\4450\\4530\\4615\\4690\\4845\\4935\\5135\\5280\\5470\\5530\\5630\\5690\\5770\\5890\\5965\\6060\\6205\\6290\\6350\\6695\\6805\\6890\\6985\\7260\\7355\\7450\\7510\\7570\\7630\\7705\\7775\\7980\\8170\\8255\\8485\\8530\\8650\\8710\\8785\\8940\\9050\\9205\\9250\\9335\\9470\\9590\\9710\\9780\\9850\\}
\lvl{6121}{175\\285\\510\\560\\740\\790\\920\\1110\\1150\\1315\\1375\\1495\\1590\\1675\\1710\\2275\\2370\\2445\\2685\\2910\\3055\\3115\\3175\\3225\\3285\\3365\\3535\\3595\\3765\\3825\\3895\\3955\\4015\\4090\\4220\\4280\\4425\\4600\\4760\\5315\\5365\\5590\\5665\\5770\\5830\\5915\\5965\\6085\\6325\\6710\\6865\\6950\\7020\\7080\\7175\\7370\\7510\\7630\\7705\\7765\\7845\\7945\\8005\\8330\\8365\\8555\\8605\\8725\\8770\\8855\\8950\\9010\\9070\\9110\\9310\\9575\\9695\\}
\lvl{6120}{235\\270\\295\\370\\450\\765\\790\\895\\1185\\1400\\1510\\1675\\1725\\1820\\1880\\1965\\2095\\2635\\3030\\3200\\3250\\3355\\3490\\3550\\3620\\3655\\3690\\3740\\3850\\3970\\4015\\4050\\4100\\4195\\4350\\4485\\4590\\4880\\5005\\5210\\5290\\5375\\5890\\5915\\6050\\6120\\6265\\6590\\6770\\6815\\6890\\7080\\7130\\7450\\7490\\7630\\7750\\7825\\7945\\7990\\8110\\8210\\8330\\8410\\8460\\8605\\8650\\8700\\8820\\8975\\9155\\9240\\9480\\}
\lvl{6119}{200\\885\\930\\990\\1015\\1125\\1555\\1605\\1750\\2120\\2155\\2350\\2515\\2745\\2790\\2890\\2970\\3080\\3115\\3200\\3370\\3465\\3620\\3800\\3930\\4150\\4195\\4245\\4390\\4510\\4980\\5340\\5725\\5785\\5890\\5940\\5990\\6230\\6275\\6530\\6575\\6830\\7345\\7405\\7570\\7740\\7945\\8050\\8280\\8315\\8435\\8495\\8530\\8845\\8930\\9060\\9410\\9490\\9575\\9635\\}
\lvl{6118}{190\\1065\\1245\\1555\\2240\\2950\\3320\\3740\\3895\\4075\\4200\\4220\\5650\\5905\\5965\\6455\\6650\\7200\\7775\\7930\\8530\\8690\\9025\\9170\\9350\\}
\lvl{6117}{130\\225\\310\\730\\910\\1270\\1340\\1630\\2205\\2900\\3020\\3175\\3355\\3715\\3860\\3955\\4090\\5350\\6000\\6505\\6590\\6730\\6790\\7010\\7055\\8255\\8580\\}
\lvl{6116}{2755\\2865\\3490\\3560\\3765\\5930\\6370\\8365\\9515\\9865\\}
\lvl{6115}{980\\1305\\2215\\3260\\3610\\3740\\4125\\6745\\7150\\8030\\8255\\9050\\9600\\9650\\}
\lvl{6114}{1580\\2780\\2950\\3020\\4675\\8725\\}
\lvl{6113}{3475\\4100\\7870\\8375\\}
\lvl{6111}{4030\\}
\lvl{6110}{3730\\4195\\}
\lvl{6109}{3775\\}
\lvl{6108}{8845\\}
\end{axis}
\end{tikzpicture}
\end{document}
